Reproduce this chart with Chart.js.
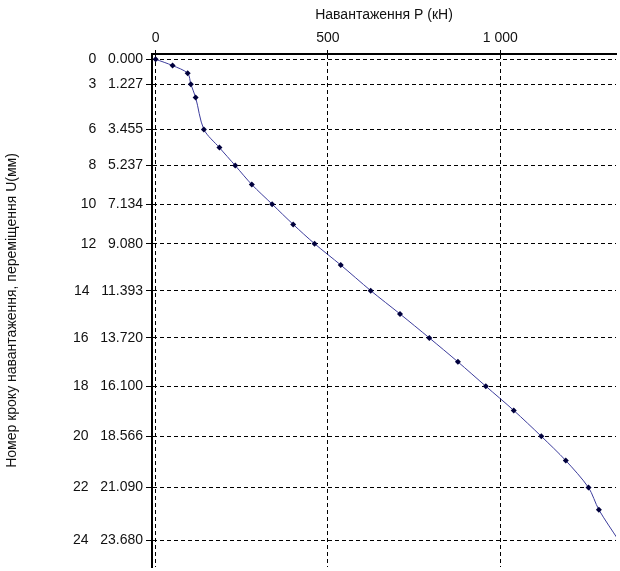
<!DOCTYPE html>
<html>
<head>
<meta charset="utf-8">
<script src="https://cdn.jsdelivr.net/npm/chart.js@4/dist/chart.umd.min.js"></script>
<style>
  html, body { margin: 0; padding: 0; background: #fff; }
  #wrap { width: 620px; height: 571px; position: relative; }
</style>
</head>
<body>
<div id="wrap"><canvas id="chart"></canvas></div>
<script>
// load P (kN) vs displacement U (mm), one point per load step
const loads = [0, 49, 93, 102, 116, 140, 185, 231, 279, 338, 399, 461, 537, 624, 709, 794, 877, 958, 1039, 1119, 1190, 1256, 1286, 1343];
const displacements = [0, 0.31, 0.69, 1.227, 1.88, 3.455, 4.35, 5.237, 6.17, 7.134, 8.13, 9.080, 10.13, 11.393, 12.54, 13.720, 14.90, 16.100, 17.29, 18.566, 19.76, 21.090, 22.18, 23.680];

// labelled steps on the left axis and their displacements
const stepTicks = [0, 3, 6, 8, 10, 12, 14, 16, 18, 20, 22, 24];
const dispTicks = [0.000, 1.227, 3.455, 5.237, 7.134, 9.080, 11.393, 13.720, 16.100, 18.566, 21.090, 23.680];
const loadTicks = [0, 500, 1000];

const font = { family: 'Arial, "Liberation Sans", sans-serif', size: 14 };
const textColor = '#111';

const noPad = scale => {
  scale.paddingTop = 0;
  scale.paddingBottom = 0;
  scale.paddingLeft = 0;
  scale.paddingRight = 0;
};

new Chart(document.getElementById('chart'), {
  type: 'scatter',
  data: {
    datasets: [
      {
        data: loads.map((p, i) => ({ x: p, y: displacements[i] })),
        showLine: true,
        borderColor: '#3c3c9c',
        borderWidth: 1,
        tension: 0.3,
        pointStyle: 'rectRot',
        pointRadius: 3,
        pointBackgroundColor: '#00003c',
        pointBorderColor: '#00003c',
        pointBorderWidth: 0,
      },
    ],
  },
  options: {
    responsive: true,
    maintainAspectRatio: false,
    animation: false,
    layout: { padding: 0 },
    plugins: { legend: { display: false }, tooltip: { enabled: false } },
    scales: {
      x: {
        type: 'linear',
        position: 'top',
        min: -10.6,
        max: 1335.7,
        afterBuildTicks: axis => (axis.ticks = loadTicks.map(v => ({ value: v }))),
        afterFit: scale => {
          scale.height = 54;
          noPad(scale);
        },
        ticks: {
          autoSkip: false,
          maxRotation: 0,
          padding: 3,
          color: textColor,
          font,
          callback: v => (v >= 1000 ? Math.floor(v / 1000) + ' ' + String(v % 1000).padStart(3, '0') : String(v)),
        },
        grid: {
          color: '#000',
          lineWidth: 1,
          tickLength: 4,
          tickColor: '#000',
          tickBorderDash: [],
        },
        border: { display: true, color: '#000', width: 2, dash: [4, 3] },
        title: {
          display: true,
          text: 'Навантаження P (кН)',
          color: textColor,
          font,
          padding: { top: 7, bottom: 0 },
        },
      },
      y: {
        type: 'linear',
        position: 'left',
        reverse: true,
        min: -0.259,
        max: 25.0,
        afterBuildTicks: axis => (axis.ticks = dispTicks.map(v => ({ value: v }))),
        afterFit: scale => {
          scale.width = 152;
          noPad(scale);
        },
        ticks: {
          autoSkip: false,
          padding: 3,
          color: textColor,
          font,
          callback: (v, i) => stepTicks[i] + '   ' + v.toFixed(3),
        },
        grid: {
          color: '#000',
          lineWidth: 1,
          tickLength: 6,
          tickColor: '#000',
          tickBorderDash: [],
        },
        border: { display: true, color: '#000', width: 2, dash: [4, 3] },
        title: {
          display: true,
          text: 'Номер кроку навантаження, переміщення U(мм)',
          color: textColor,
          font,
          padding: { top: 4, bottom: 0 },
        },
      },
    },
  },
});
</script>
</body>
</html>
